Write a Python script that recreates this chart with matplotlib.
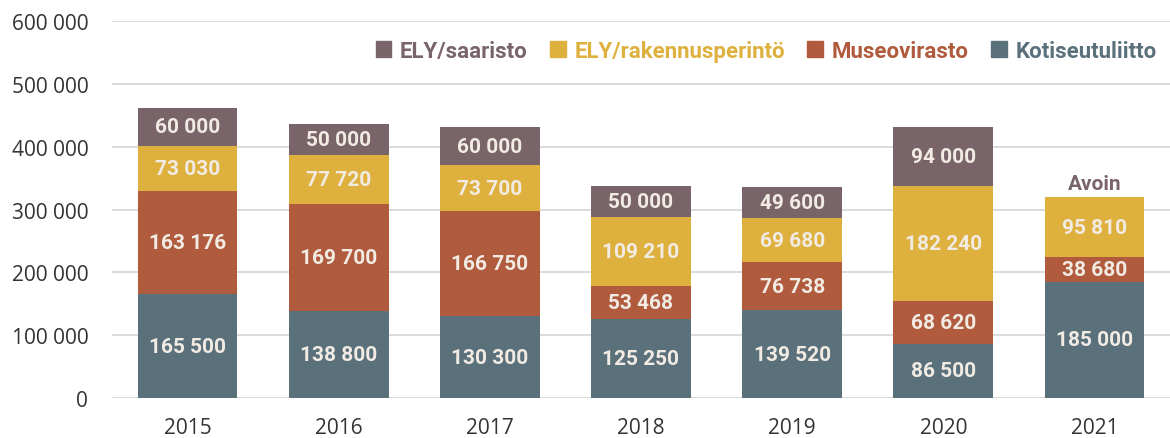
import matplotlib.pyplot as plt
import numpy as np
from matplotlib.patches import Patch

years = ["2015", "2016", "2017", "2018", "2019", "2020", "2021"]
kotiseutuliitto = [165500, 138800, 130300, 125250, 139520, 86500, 185000]
museovirasto = [163176, 169700, 166750, 53468, 76738, 68620, 38680]
ely_rakennus = [73030, 77720, 73700, 109210, 69680, 182240, 95810]
ely_saaristo = [60000, 50000, 60000, 50000, 49600, 94000, 0]
open_note = "Avoin"

series = [
    ("Kotiseutuliitto", kotiseutuliitto, "#5a717c"),
    ("Museovirasto", museovirasto, "#b05b3d"),
    ("ELY/rakennusperintö", ely_rakennus, "#deb13f"),
    ("ELY/saaristo", ely_saaristo, "#79646a"),
]

bold_font = ["Roboto", "DejaVu Sans"]
tick_font = ["Open Sans", "DejaVu Sans"]


def fmt(v):
    return f"{int(v):,}".replace(",", " ")


fig = plt.figure(figsize=(11.7, 4.39), dpi=100)
ax = fig.add_axes([0.0957, 0.091, 0.9043, 0.859])

x = np.arange(len(years))
bottom = np.zeros(len(years))
for name, vals, color in series:
    vals = np.array(vals, dtype=float)
    ax.bar(x, vals, 0.66, bottom=bottom, color=color, zorder=2)
    for xi, b, v in zip(x, bottom, vals):
        if v > 0:
            ax.text(xi, b + v / 2, fmt(v), ha="center", va="center",
                    color="#f1ebe3", fontsize=15, fontweight="bold",
                    family=bold_font, zorder=3)
    bottom += vals

ax.text(x[-1], bottom[-1] + 6000, open_note, ha="center", va="bottom",
        color="#79646a", fontsize=15, fontweight="bold", family=bold_font)

ax.set_xlim(-0.5, 6.5)
ax.set_ylim(0, 600000)
ax.set_yticks(range(0, 600001, 100000))
ax.set_yticklabels([fmt(v) for v in range(0, 600001, 100000)],
                   family=tick_font, fontsize=15, color="#333333")
ax.set_xticks(x)
ax.set_xticklabels(years, family=tick_font, fontsize=15, color="#333333")
ax.tick_params(axis="x", length=0, pad=14)
ax.tick_params(axis="y", length=0, pad=17)
ax.grid(axis="y", color="#d4d4d4", linewidth=1.2, zorder=0)
for s in ax.spines.values():
    s.set_visible(False)

handles = [Patch(color=c, label=n) for n, _, c in reversed(series)]
leg = ax.legend(handles=handles, ncol=4, loc="upper right",
                bbox_to_anchor=(1.0, 0.985), frameon=False,
                prop={"family": bold_font, "weight": "bold", "size": 16},
                handlelength=0.7, handleheight=0.7, handletextpad=0.4,
                columnspacing=1.0, borderaxespad=0.2)
for txt, h in zip(leg.get_texts(), handles):
    txt.set_color(h.get_facecolor())

fig.savefig("out.png", dpi=100)
